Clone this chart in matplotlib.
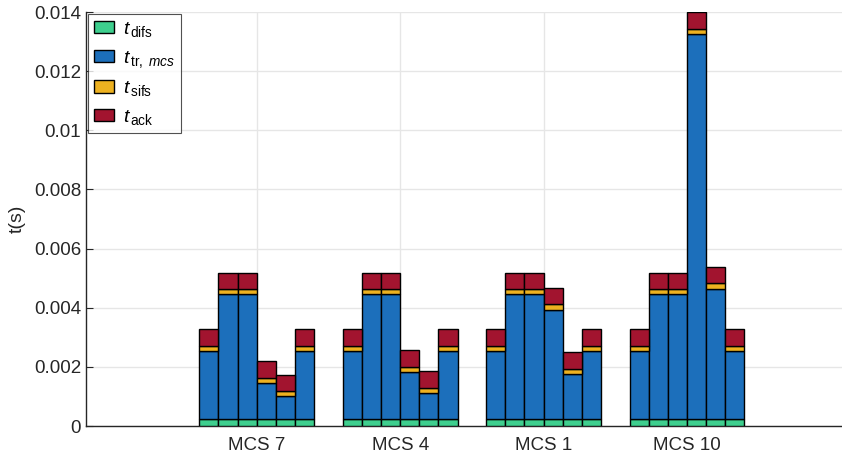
import numpy as np
import matplotlib.pyplot as plt

plt.rcParams['font.family'] = ['Liberation Sans', 'DejaVu Sans']
plt.rcParams['mathtext.fontset'] = 'custom'
plt.rcParams['mathtext.rm'] = 'Liberation Sans'
plt.rcParams['mathtext.it'] = 'Liberation Sans:italic'

# Per-group timings (seconds), 6 frames per MCS group
groups = ['MCS 7', 'MCS 4', 'MCS 1', 'MCS 10']
t_difs = 0.00025
t_sifs = 0.00017
t_ack = 0.00057
t_tr = [
    [0.00229, 0.0042, 0.0042, 0.0012, 0.00075, 0.00229],
    [0.00229, 0.0042, 0.0042, 0.00159, 0.00088, 0.00229],
    [0.00229, 0.0042, 0.0042, 0.00369, 0.00152, 0.00229],
    [0.00229, 0.0042, 0.0042, 0.0130, 0.0044, 0.00229],
]

colors = ['#3ECF8E', '#1C6FBB', '#EDB120', '#A2142F']
labels = [r'$t_{\,\mathrm{difs}}$', r'$t_{\,\mathrm{tr,}\ mcs}$',
          r'$t_{\,\mathrm{sifs}}$', r'$t_{\,\mathrm{ack}}$']

fig = plt.figure(figsize=(8.42, 4.55), dpi=100)
ax = fig.add_axes([0.1021, 0.0637, 0.8979, 0.9099])

n_bars = 6
group_w = 0.8
bar_w = group_w / n_bars
tr = np.array(t_tr)
for g in range(len(groups)):
    x = (g + 1) - group_w / 2 + bar_w * (np.arange(n_bars) + 0.5)
    difs = np.full(n_bars, t_difs)
    sifs = np.full(n_bars, t_sifs)
    ack = np.full(n_bars, t_ack)
    bottom = np.zeros(n_bars)
    for vals, c, lab in zip([difs, tr[g], sifs, ack], colors, labels):
        ax.bar(x, vals, bar_w, bottom=bottom, color=c, edgecolor='black',
               linewidth=1.0, label=lab if g == 0 else None, zorder=3)
        bottom = bottom + vals

ax.set_xlim(-0.19, 5.08)
ax.set_ylim(0, 0.014)
ax.set_xticks(range(1, len(groups) + 1))
ax.set_xticklabels(groups)
ax.set_yticks(np.arange(0, 0.0141, 0.002))
ax.set_yticklabels(['0', '0.002', '0.004', '0.006', '0.008', '0.01', '0.012', '0.014'])
ax.set_ylabel('t(s)', fontsize=14, color='#262626', labelpad=6)

ax.grid(True, color='#E6E6E6', linewidth=1.0, zorder=0)
ax.set_axisbelow(True)
for s in ['top', 'right']:
    ax.spines[s].set_visible(False)
for s in ['left', 'bottom']:
    ax.spines[s].set_color('#262626')
    ax.spines[s].set_linewidth(1.0)
ax.tick_params(direction='in', length=5, colors='#262626', labelsize=13.5)
ax.tick_params(axis='x', pad=8)

leg = ax.legend(loc='upper left', bbox_to_anchor=(0.003, 0.995), fontsize=14,
                frameon=True, fancybox=False, edgecolor='#262626',
                handlelength=1.05, handleheight=0.6, handletextpad=0.45,
                labelspacing=0.5, borderpad=0.3, borderaxespad=0.0)
leg.get_frame().set_linewidth(0.8)

fig.savefig('out.png', dpi=100)
